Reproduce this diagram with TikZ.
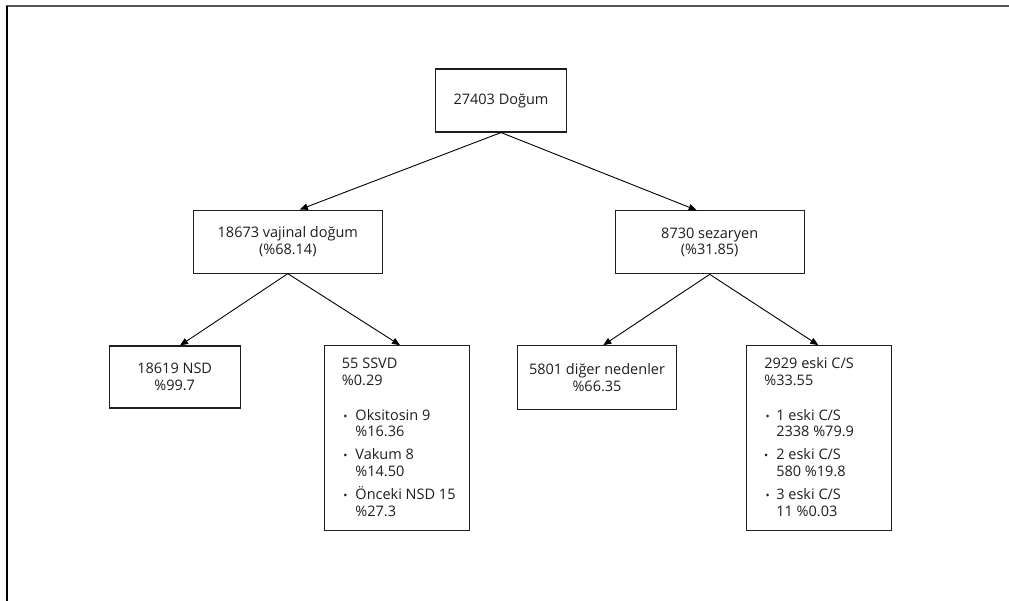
\documentclass[tikz,border=0pt]{standalone}
\usepackage{fontspec}
\setmainfont{Open Sans}
\usetikzlibrary{arrows.meta,calc}
\definecolor{framegray}{RGB}{85,85,85}
\definecolor{ink}{RGB}{30,30,30}
\begin{document}
\begin{tikzpicture}[x=1pt,y=-1pt,
  box/.style={draw=ink, line width=1.1pt, inner sep=0pt, align=center,
    font=\fontsize{14.5}{16.5}\selectfont, text=ink},
  txt/.style={anchor=base west, inner sep=0pt, font=\fontsize{14.5}{16.5}\selectfont, text=ink},
  bul/.style={anchor=base, inner sep=0pt, font=\fontsize{11}{13}\selectfont, text=ink},
  arr/.style={-{Triangle[length=8pt,width=6.5pt]}, line width=0.9pt, draw=black}]
\useasboundingbox (0,0) rectangle (1009,601);
\fill[white] (0,0) rectangle (1009,601);
% frame
\draw[line width=2pt, framegray] (5.7,6) -- (1009,6);
\draw[line width=1.7pt, black] (6.7,6) -- (6.7,601);
% boxes
\node[box, minimum width=131, minimum height=63] (root) at (501,100.5) {27403 Doğum};
\node[box, minimum width=189, minimum height=63] (vaj) at (287.8,241.6) {18673 vajinal doğum\\(\%68.14)};
\node[box, minimum width=189, minimum height=63] (sez) at (709.7,242.3) {8730 sezaryen\\(\%31.85)};
\node[box, minimum width=131, minimum height=62] (nsd) at (174.7,377) {18619 NSD\\\%99.7};
\node[box, minimum width=159, minimum height=63.6] (dig) at (597,377.5) {5801 diğer nedenler\\\%66.35};
\node[box, minimum width=145, minimum height=185] (ssvd) at (396.8,438.2) {};
\node[box, minimum width=145, minimum height=185] (eski) at (819.2,438.2) {};
% SSVD contents
\node[txt] (s1) at ($(ssvd.north west)+(18,23.5)$) {55 SSVD};
\node[txt] (s2) at ($(ssvd.north west)+(18,40)$) {\%0.29};
\node[bul] (sb1) at ($(ssvd.north west)+(21.7,75.5)$) {•};
\node[txt] (s3) at ($(ssvd.north west)+(31.5,75.5)$) {Oksitosin 9};
\node[txt] (s4) at ($(ssvd.north west)+(31.5,91.5)$) {\%16.36};
\node[bul] (sb2) at ($(ssvd.north west)+(21.7,114.8)$) {•};
\node[txt] (s5) at ($(ssvd.north west)+(31.5,114.8)$) {Vakum 8};
\node[txt] (s6) at ($(ssvd.north west)+(31.5,131.2)$) {\%14.50};
\node[bul] (sb3) at ($(ssvd.north west)+(21.7,154.5)$) {•};
\node[txt] (s7) at ($(ssvd.north west)+(31.5,154.5)$) {Önceki NSD 15};
\node[txt] (s8) at ($(ssvd.north west)+(31.5,171)$) {\%27.3};
% eski C/S contents
\node[txt] (e1) at ($(eski.north west)+(18,23.5)$) {2929 eski C/S};
\node[txt] (e2) at ($(eski.north west)+(18,40)$) {\%33.55};
\node[bul] (eb1) at ($(eski.north west)+(21.6,75.5)$) {•};
\node[txt] (e3) at ($(eski.north west)+(30,75.5)$) {1 eski C/S};
\node[txt] (e4) at ($(eski.north west)+(30,91.5)$) {2338 \%79.9};
\node[bul] (eb2) at ($(eski.north west)+(20,114.8)$) {•};
\node[txt] (e5) at ($(eski.north west)+(30,114.8)$) {2 eski C/S};
\node[txt] (e6) at ($(eski.north west)+(30,131.2)$) {580 \%19.8};
\node[bul] (eb3) at ($(eski.north west)+(21.6,154.5)$) {•};
\node[txt] (e7) at ($(eski.north west)+(30,154.5)$) {3 eski C/S};
\node[txt] (e8) at ($(eski.north west)+(30,171)$) {11 \%0.03};
% connectors
\draw[arr] (root.south) -- ($(vaj.north)+(12,0)$);
\draw[arr] (root.south) -- ($(sez.north)+(-13,0)$);
\draw[arr] (vaj.south) -- ($(nsd.north)+(5.3,0)$);
\draw[arr] (vaj.south) -- ($(ssvd.north)+(3.2,0)$);
\draw[arr] (sez.south) -- ($(dig.north)+(6.3,0)$);
\draw[arr] (sez.south) -- ($(eski.north)+(-0.9,0)$);
\end{tikzpicture}
\end{document}
